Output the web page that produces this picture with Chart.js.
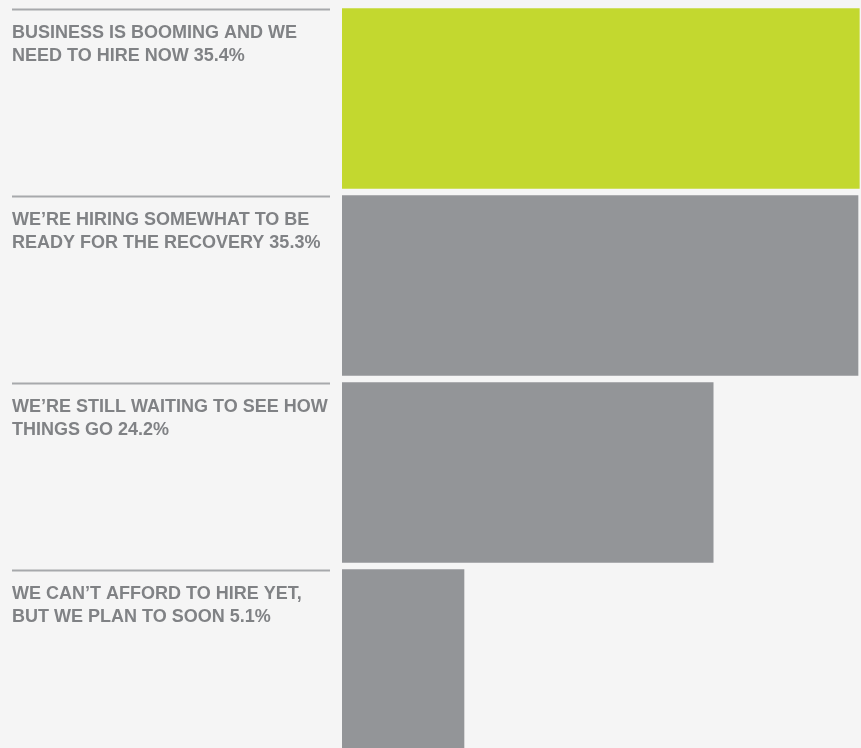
<!DOCTYPE html>
<html>
<head>
<meta charset="utf-8">
<script src="https://cdn.jsdelivr.net/npm/chart.js@4/dist/chart.umd.min.js"></script>
<style>
  html, body { margin: 0; padding: 0; background: #f5f5f5; overflow: hidden; }
  .bar-chart { position: relative; width: 861px; height: 753px; }
</style>
</head>
<body>
<div class="bar-chart"></div>
<script>
// answers, split on two lines like the print version
var categories = [
  ["BUSINESS IS BOOMING AND WE", "NEED TO HIRE NOW"],
  ["WE\u2019RE HIRING SOMEWHAT TO BE", "READY FOR THE RECOVERY"],
  ["WE\u2019RE STILL WAITING TO SEE HOW", "THINGS GO"],
  ["WE CAN\u2019T AFFORD TO HIRE YET,", "BUT WE PLAN TO SOON"]
];
var values = [35.4, 35.3, 24.2, 5.1];
var barColors = ["#c3d82f", "#939598", "#939598", "#939598"];
var axisMin = -4.25, axisMax = 35.53;

// left hand labels with the rule above each one
const sideLabels = {
  id: "sideLabels",
  afterDraw(chart) {
    var ctx = chart.ctx;
    var y = chart.scales.y;
    var half = 90;
    ctx.save();
    categories.forEach((lines, i) => {
      var top = y.getPixelForValue(i) - half;
      ctx.fillStyle = "#a7a9ac";
      ctx.fillRect(12, top, 318, 2);
      ctx.fillStyle = "#808285";
      ctx.font = "bold 18px 'Liberation Sans', Arial, sans-serif";
      ctx.textBaseline = "alphabetic";
      ctx.textAlign = "left";
      lines.forEach((txt, k) => {
        if (k == lines.length - 1) txt += " " + values[i] + "%";
        ctx.fillText(txt, 12, top + 29 + k * 23.5);
      });
    });
    ctx.restore();
  }
};

const ctx = document.createElement("canvas");
document.querySelector(".bar-chart").appendChild(ctx);

new Chart(ctx, {
  type: "bar",
  data: {
    labels: categories,
    datasets: [
      {
        data: values,
        base: axisMin,
        backgroundColor: barColors,
        borderWidth: 0,
        barThickness: 180,
      },
    ],
  },
  options: {
    indexAxis: "y",
    responsive: true,
    maintainAspectRatio: false,
    animation: false,
    layout: { padding: { left: 342, top: 5, right: 0, bottom: 0 } },
    plugins: { legend: { display: false }, tooltip: { enabled: false } },
    scales: {
      x: { display: false, min: axisMin, max: axisMax },
      y: { display: false },
    },
  },
  plugins: [sideLabels],
});
</script>
</body>
</html>
